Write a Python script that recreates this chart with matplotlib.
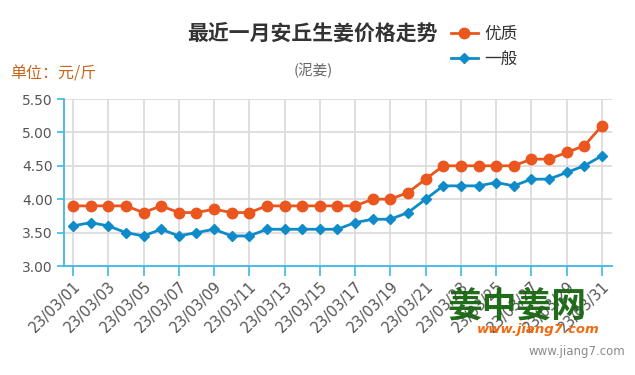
import numpy as np
import matplotlib.pyplot as plt

plt.rcParams['font.family'] = ['Noto Sans CJK SC', 'DejaVu Sans']

days = list(range(1, 32))
labels = ["23/03/%02d" % d for d in days]
youzhi = [3.9, 3.9, 3.9, 3.9, 3.8, 3.9, 3.8, 3.8, 3.85, 3.8, 3.8, 3.9, 3.9, 3.9, 3.9, 3.9,
          3.9, 4.0, 4.0, 4.1, 4.3, 4.5, 4.5, 4.5, 4.5, 4.5, 4.6, 4.6, 4.7, 4.8, 5.1]
yiban = [3.6, 3.65, 3.6, 3.5, 3.45, 3.55, 3.45, 3.5, 3.55, 3.45, 3.45, 3.55, 3.55, 3.55, 3.55, 3.55,
         3.65, 3.7, 3.7, 3.8, 4.0, 4.2, 4.2, 4.2, 4.25, 4.2, 4.3, 4.3, 4.4, 4.5, 4.65]

orange = "#ea561e"
blue = "#0e8bc8"
axis_blue = "#3db8e6"

fig = plt.figure(figsize=(6.35, 3.75), dpi=100)
ax = fig.add_axes([64/635, 109/375, 548/635, 167/375])

ax.plot(days, youzhi, color=orange, lw=2, marker='o', ms=7.5, label="优质", zorder=3)
ax.plot(days, yiban, color=blue, lw=2, marker='D', ms=5.5, label="一般", zorder=3)

ax.set_xlim(0.49, 31.57)
ax.set_ylim(3.0, 5.5)
ax.set_yticks(np.arange(3.0, 5.51, 0.5))
ax.set_yticklabels(["%.2f" % v for v in np.arange(3.0, 5.51, 0.5)], family='DejaVu Sans')
ax.set_xticks(days[::2])
ax.set_xticklabels(labels[::2], rotation=45, ha='right', rotation_mode='anchor', family='DejaVu Sans')

ax.grid(True, color="#d9d9d9", lw=1.2)
ax.set_axisbelow(True)
for s in ['top', 'right']:
    ax.spines[s].set_visible(False)
for s in ['left', 'bottom']:
    ax.spines[s].set_color(axis_blue)
    ax.spines[s].set_linewidth(1.3)
ax.tick_params(axis='y', colors=axis_blue, labelcolor="#555555", labelsize=10, length=5, width=1.2, pad=3)
ax.tick_params(axis='x', colors=axis_blue, labelcolor="#555555", labelsize=10.5, length=7, width=1.2, pad=2)

fig.text(312/635, 1 - 33/375, "最近一月安丘生姜价格走势", ha='center', va='center',
         fontsize=15, fontweight='bold', color="#333333")
fig.text(313/635, 1 - 70/375, "(泥姜)", ha='center', va='center', fontsize=10.5, color="#666666")
fig.text(10/635, 1 - 74/375, "单位：元/斤", ha='left', va='center', fontsize=11.5, color="#c8651b")

leg = fig.legend(loc='upper left', bbox_to_anchor=(436/635, 1 - 11/375), frameon=False,
                 fontsize=12, handlelength=1.6, labelspacing=0.45, handletextpad=0.4)
for t in leg.get_texts():
    t.set_color("#333333")

# watermark
fig.text(517/635, 1 - 306/375, "姜中姜网", ha='center', va='center', fontsize=25,
         fontweight='bold', color="#16650f", alpha=0.95)
fig.text(538/635, 1 - 330/375, "www.jiang7.com", ha='center', va='center', fontsize=9.5,
         fontweight='bold', style='italic', color="#f26a10", family='DejaVu Sans')
fig.text(625/635, 1 - 352/375, "www.jiang7.com", ha='right', va='center', fontsize=8.5,
         color="#8a8a8a", family='DejaVu Sans')

fig.savefig("out.png", dpi=100)
